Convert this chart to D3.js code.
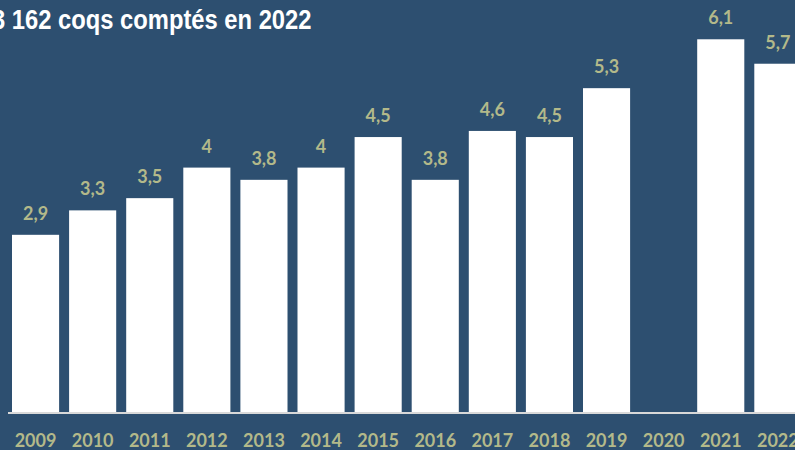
<!DOCTYPE html>
<html>
<head>
<meta charset="utf-8">
<script src="https://cdn.jsdelivr.net/npm/d3@7"></script>
<style>
  html, body { margin: 0; padding: 0; background: #2d4f70; }
  svg { display: block; }
</style>
</head>
<body>
<svg id="chart" width="795" height="450"></svg>
<script>
// data (2020: no count)
const years = ['2009', '2010', '2011', '2012', '2013', '2014', '2015', '2016', '2017', '2018', '2019', '2020', '2021', '2022'];
const values = [2.9, 3.3, 3.5, 4, 3.8, 4, 4.5, 3.8, 4.6, 4.5, 5.3, null, 6.1, 5.7];
const subtitle = '3 162 coqs comptés en 2022';

const width = 795;
const height = 450;
const baseY = 412;

const svg = d3.select('#chart');

svg.append('rect')
    .attr('width', width)
    .attr('height', height)
    .attr('fill', '#2d4f70');

const x = d3.scaleBand()
    .domain(years)
    .range([7, 7 + 14 * 57.1])
    .paddingInner(0.175)
    .paddingOuter(0.0875);

const y = d3.scaleLinear()
    .domain([0, 7])
    .range([baseY, baseY - 7 * 61.1]);

const data = years.map((yr, i) => ({ year: yr, value: values[i] }))
    .filter(d => d.value != null);

const fmt = v => String(v).replace('.', ',');

svg.append('g')
    .selectAll('rect')
    .data(data)
    .join('rect')
    .attr('x', d => x(d.year))
    .attr('y', d => y(d.value))
    .attr('width', x.bandwidth())
    .attr('height', d => y(0) - y(d.value))
    .attr('fill', '#ffffff');

svg.append('g')
    .selectAll('text')
    .data(data)
    .join('text')
    .attr('x', d => x(d.year) + x.bandwidth() / 2)
    .attr('y', d => y(d.value) - 15)
    .attr('text-anchor', 'middle')
    .attr('font-family', 'Lato, sans-serif')
    .attr('font-weight', 'bold')
    .attr('font-size', 18)
    .attr('fill', '#b3b98a')
    .text(d => fmt(d.value));

// baseline
svg.append('line')
    .attr('x1', 8)
    .attr('x2', width)
    .attr('y1', baseY + 1)
    .attr('y2', baseY + 1)
    .attr('stroke', '#d9d9d9')
    .attr('stroke-width', 2);

// year labels via axis
const xAxis = svg.append('g')
    .attr('transform', `translate(0,${baseY})`)
    .call(d3.axisBottom(x).tickSize(0).tickPadding(22));

xAxis.select('.domain').remove();
xAxis.selectAll('text')
    .attr('font-family', 'Lato, sans-serif')
    .attr('font-weight', 'bold')
    .attr('font-size', 18)
    .attr('fill', '#b3b98a');

svg.append('text')
    .attr('transform', 'translate(-8,29) scale(0.88,1)')
    .attr('font-family', '"Liberation Sans", Arial, sans-serif')
    .attr('font-weight', 'bold')
    .attr('font-size', 27)
    .attr('fill', '#ffffff')
    .text(subtitle);
</script>
</body>
</html>
